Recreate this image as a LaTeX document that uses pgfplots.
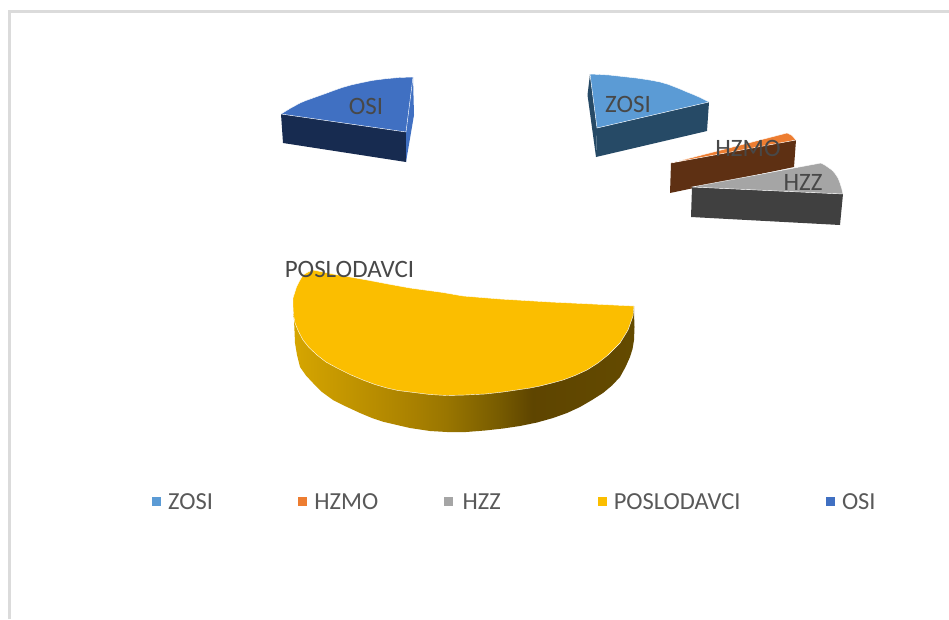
\documentclass[border=0pt]{standalone}
\usepackage{pgfplots}
\pgfplotsset{compat=1.18}
\usepackage{fontspec}
\setmainfont{Carlito}
\definecolor{cZ}{HTML}{5B9BD5}\definecolor{cZs}{HTML}{264A66}
\definecolor{cM}{HTML}{ED7D31}\definecolor{cMs}{HTML}{5E3013}
\definecolor{cH}{HTML}{A5A5A5}\definecolor{cHs}{HTML}{404040}
\definecolor{cP}{HTML}{FBBE00}
\definecolor{cO}{HTML}{4070C2}\definecolor{cOs}{HTML}{172B50}
\definecolor{lab}{HTML}{484848}\definecolor{leg}{HTML}{595959}
\definecolor{frm}{HTML}{DBDBDB}
\pgfdeclarehorizontalshading{goldside}{100bp}{
 rgb(0bp)=(0.84,0.65,0.0);
 rgb(25bp)=(0.84,0.65,0.0);
 rgb(42bp)=(0.67,0.51,0.0);
 rgb(47.5bp)=(0.60,0.46,0.0);
 rgb(55bp)=(0.47,0.36,0.0);
 rgb(60bp)=(0.37,0.27,0.0);
 rgb(75bp)=(0.39,0.29,0.0);
 rgb(100bp)=(0.39,0.29,0.0)}
\begin{document}
\begin{tikzpicture}
\path[use as bounding box] (0,0) rectangle (949pt,619pt);
\begin{axis}[x=1pt,y=1pt,y dir=reverse,xmin=0,xmax=949,ymin=0,ymax=619,axis lines=none,clip=true,
 legend columns=5,
 legend image code/.code={\fill[#1,draw=none] (0pt,-4.5pt) rectangle (9pt,4.5pt);\path (16pt,0pt);},
 legend style={at={(axis cs:152,501.5)},anchor=west,draw=none,fill=none,inner sep=0pt,outer sep=0pt,
  font=\fontsize{24.5}{26}\selectfont,text=leg,column sep=0pt,row sep=0pt,
  nodes={inner sep=0pt,outer sep=0pt,anchor=west}}]
% frame
\addplot[frm,line width=3pt,forget plot] coordinates {(9.5,619)(9.5,11.5)(949,11.5)};
% ZOSI
\addplot[fill=cZs,draw=none,forget plot] coordinates {(590,74)(587.5,95)(596,157)(597,128)} -- cycle;
\addplot[fill=cZs,draw=none,forget plot] coordinates {(597,128)(709,102)(707,131)(596,157)} -- cycle;
\addplot[fill=cZ,draw=white,line width=0.4pt] coordinates {(590,74)(600,74.5)(609,75)(618,76)(627,77)(636,78)(645,79.3)(653,80.6)(660,82)(668,84.3)(675,87)(681,89.4)(687,92)(693,94.4)(699,97)(704,99.4)(709,102)(597,128)} -- cycle;
\addlegendentry{\makebox[130pt][l]{\strut ZOSI}}
% HZMO
\addplot[fill=cMs,draw=none,forget plot] coordinates {(671,163)(796,140)(794,167)(670,193)} -- cycle;
\addplot[fill=cM,draw=white,line width=0.4pt] coordinates {(671,163)(787,133)(792,135.5)(796,140)} -- cycle;
\addlegendentry{\makebox[130pt][l]{\strut HZMO}}
% HZZ
\addplot[fill=cHs,draw=none,forget plot] coordinates {(692,187)(843,194)(840,225)(691,217)} -- cycle;
\addplot[fill=cH,draw=white,line width=0.4pt] coordinates {(692,187)(821,163)(825.5,165.5)(829,168)(832.5,170.5)(835,173.5)(838,178)(840,183)(841.7,188.5)(843,194)} -- cycle;
\addlegendentry{\makebox[137pt][l]{\strut\hspace{2pt}HZZ}}
% POSLODAVCI
\addplot[shading=goldside,draw=none,forget plot] coordinates {(634,306)(634,313)(634.5,327)(634,340)(632.5,349)(630,357)(625.5,367)(620,377)(612,385.5)(603,393)(592,400)(580,407)(567,413)(553,418)(537,422.5)(520,426)(503,428.5)(485,430.5)(466,432)(447,432)(430,431)(410,428)(397,425)(383,421.7)(372,418)(360,413)(346,406.5)(333,400)(322,392)(313,383)(306,375.5)(300,367)(297,355)(295,343)(294.5,331)(294,320)(293,310)} -- cycle;
\addplot[fill=cP,draw=white,line width=0.4pt] coordinates {(634,306)(633,316)(628,330)(620,343)(608,355)(598,363)(587,370)(575,375.5)(563,380)(552,383)(540,386)(530,388)(520,389.5)(503,392)(485,394)(465,395)(447,395.5)(430,394.5)(410,392)(398,390.5)(387,388)(375,384.5)(363,380)(350,374.5)(337,368)(326,362)(317,355)(309,347.5)(303,340)(298.5,331.5)(295,323)(293.5,315)(293,307)(293,298)(296.5,287)(299.5,281)(303,275)(308,272)(313,270)(333,274)(350,277)(367,280)(388,284)(410,288)(443,292.5)(463,296)(500,299)(550,302)} -- cycle;
\addlegendentry{\makebox[212pt][l]{\strut POSLODAVCI}}
% OSI
\addplot[fill=cOs,draw=none,forget plot] coordinates {(281,114)(406,132)(406,162)(283,143)} -- cycle;
\addplot[fill=cO,draw=none,forget plot] coordinates {(413,77)(414,115)(406,162)(406,132)} -- cycle;
\addplot[fill=cO,draw=white,line width=0.4pt] coordinates {(413,77)(399,77.5)(385,78.8)(372,80.5)(360,83)(351,85)(342,87.6)(334,90.4)(327,93)(320,95.5)(313,98)(306,100.5)(300,103)(290,108.5)(281,114)(406,132)} -- cycle;
\addlegendentry{\strut OSI}
% labels
\node[font=\fontsize{25}{27}\selectfont,text=lab] at (axis cs:628,104) {ZOSI};
\node[font=\fontsize{25}{27}\selectfont,text=lab] at (axis cs:748,148) {HZMO};
\node[font=\fontsize{25}{27}\selectfont,text=lab] at (axis cs:803,182) {HZZ};
\node[font=\fontsize{25}{27}\selectfont,text=lab] at (axis cs:349.5,269) {POSLODAVCI};
\node[font=\fontsize{25}{27}\selectfont,text=lab] at (axis cs:366,106) {OSI};
\end{axis}
\end{tikzpicture}
\end{document}
